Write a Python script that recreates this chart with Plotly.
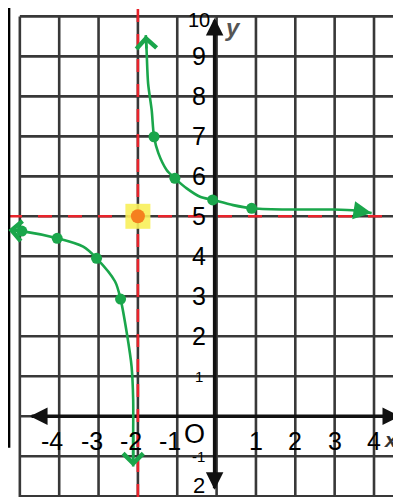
import plotly.graph_objects as go

# ---- data ----
grid_x = [-5, -4, -3, -2, -1, 0, 1, 2, 3, 4]
grid_y = [-2, -1, 0, 1, 2, 3, 4, 5, 6, 7, 8, 9, 10]

x_tick_vals = [-4, -3, -2, -1, 1, 2, 3, 4]
x_tick_text = ["-4", "-3", "-2", "-1", "1", "2", "3", "4"]
y_tick_vals = [10, 9, 8, 7, 6, 5, 4, 3, 2, 1, -1, -2]
y_tick_text = ["10", "9", "8", "7", "6", "5", "4", "3", "2", "1", "-1", "2"]

asym_x = -2
asym_y = 5

right_x = [-1.80, -1.78, -1.74, -1.65, -1.59, -1.48, -1.27, -1.06, -0.76, -0.42, -0.10, 0.42, 0.89, 1.70, 2.97, 3.56, 3.94]
right_y = [9.53, 9.16, 8.32, 7.66, 6.99, 6.58, 6.16, 5.95, 5.70, 5.49, 5.41, 5.28, 5.20, 5.17, 5.17, 5.14, 5.08]
right_pts_x = [-1.59, -1.06, -0.10, 0.89]
right_pts_y = [6.99, 5.95, 5.41, 5.20]

left_x = [-5.29, -4.95, -4.05, -3.39, -3.05, -2.58, -2.44, -2.28, -2.16, -2.12, -2.12, -2.12]
left_y = [4.66, 4.63, 4.45, 4.24, 3.95, 3.37, 2.93, 2.07, 1.24, 0.41, -0.43, -1.26]
left_pts_x = [-4.95, -4.05, -3.05, -2.44]
left_pts_y = [4.63, 4.45, 3.95, 2.93]

# ---- style ----
XR = [-5.301, 4.686]
YR = [-2.02, 10.21]
GREEN = "#1aa64b"
RED = "#e8232b"
GRID = "#383838"

fig = go.Figure()

shapes = []
for gx in grid_x:
    shapes.append(dict(type="line", x0=gx, x1=gx, y0=YR[0], y1=10, line=dict(color=GRID, width=2.6), layer="below"))
for gy in grid_y:
    shapes.append(dict(type="line", x0=-5, x1=XR[1], y0=gy, y1=gy, line=dict(color=GRID, width=2.6), layer="below"))
shapes.append(dict(type="line", x0=-4.7, x1=4.6, y0=0, y1=0, line=dict(color="#111", width=3.5), layer="below"))
shapes.append(dict(type="line", x0=-0.05, x1=-0.05, y0=-1.8, y1=9.9, line=dict(color="#111", width=3.5), layer="below"))
# page border line at the left edge
shapes.append(dict(type="line", x0=-5.282, x1=-5.282, y0=-0.79, y1=YR[1], line=dict(color="black", width=3.2)))

fig.add_trace(go.Scatter(x=[asym_x, asym_x], y=[YR[0], YR[1]], mode="lines",
                         line=dict(color=RED, width=2.6, dash="13px,12px"), hoverinfo="skip"))
fig.add_trace(go.Scatter(x=[XR[0], XR[1]], y=[asym_y, asym_y], mode="lines",
                         line=dict(color=RED, width=2.6, dash="14px,16px"), hoverinfo="skip"))

fig.add_trace(go.Scatter(x=right_x, y=right_y, mode="lines", line=dict(color=GREEN, width=2.6, shape="spline", smoothing=0.8)))
fig.add_trace(go.Scatter(x=left_x, y=left_y, mode="lines", line=dict(color=GREEN, width=2.6, shape="spline", smoothing=0.8)))
fig.add_trace(go.Scatter(x=right_pts_x + left_pts_x, y=right_pts_y + left_pts_y, mode="markers",
                         marker=dict(color=GREEN, size=11)))

fig.add_trace(go.Scatter(x=[asym_x], y=[asym_y], mode="markers",
                         marker=dict(symbol="square", size=25, color="rgba(248,240,90,0.9)", line=dict(width=0))))
fig.add_trace(go.Scatter(x=[asym_x], y=[asym_y], mode="markers",
                         marker=dict(symbol="circle", size=14, color="#f5801f")))

ann = []
def arrow(hx, hy, tx, ty, color, width, size, head=2):
    ann.append(dict(x=hx, y=hy, ax=tx, ay=ty, xref="x", yref="y", axref="x", ayref="y",
                    showarrow=True, arrowhead=head, arrowsize=size, arrowwidth=width,
                    arrowcolor=color, text="", standoff=0))

arrow(-4.74, 0, -4.3, 0, "#111", 3.5, 1.0)
arrow(4.66, 0, 4.2, 0, "#111", 3.5, 1.0)
arrow(-0.05, 9.96, -0.05, 9.5, "#111", 3.5, 1.0)
arrow(-0.05, -1.84, -0.05, -1.4, "#111", 3.5, 1.0)
arrow(right_x[0], right_y[0], right_x[1], right_y[1], GREEN, 2.6, 1.5, head=4)
arrow(right_x[-1], right_y[-1], right_x[-2], right_y[-2], GREEN, 2.6, 1.4, head=2)
arrow(left_x[0], left_y[0], left_x[1], left_y[1], GREEN, 2.6, 1.5, head=4)
arrow(left_x[-1], left_y[-1], left_x[-2], left_y[-2], GREEN, 2.6, 1.5, head=4)

FONT = "Liberation Sans"
for v, t in zip(x_tick_vals, x_tick_text):
    ann.append(dict(x=v, y=-0.62, text=t, showarrow=False, xanchor="center", yanchor="middle",
                    xshift=-7 if v < 0 else 0,
                    font=dict(family=FONT, size=25, color="black")))
ann.append(dict(x=-0.55, y=-0.45, text="O", showarrow=False, font=dict(family=FONT, size=27, color="black")))
for v, t in zip(y_tick_vals, y_tick_text):
    size = 25
    yy = v
    if t in ("1", "-1"):
        size = 15
    if t == "10":
        size = 20
        yy = 9.9
    if v == -2:
        yy = -1.72
        size = 22
    ann.append(dict(x=-0.45, y=yy, text=t, showarrow=False, xanchor="center", yanchor="middle",
                    font=dict(family=FONT, size=size, color="black")))
ann.append(dict(x=0.42, y=9.72, text="<b><i>y</i></b>", showarrow=False,
                font=dict(family=FONT, size=24, color="#555")))
ann.append(dict(x=4.42, y=-0.58, text="<b><i>x</i></b>", showarrow=False,
                font=dict(family=FONT, size=21, color="#333")))

fig.update_layout(
    width=393, height=489,
    margin=dict(l=0, r=0, t=0, b=0),
    paper_bgcolor="white", plot_bgcolor="white",
    showlegend=False,
    xaxis=dict(range=XR, showgrid=False, zeroline=False, showticklabels=False, ticks="", fixedrange=True),
    yaxis=dict(range=YR, showgrid=False, zeroline=False, showticklabels=False, ticks="", fixedrange=True),
    shapes=shapes,
    annotations=ann,
)

fig.write_html("out.html")
